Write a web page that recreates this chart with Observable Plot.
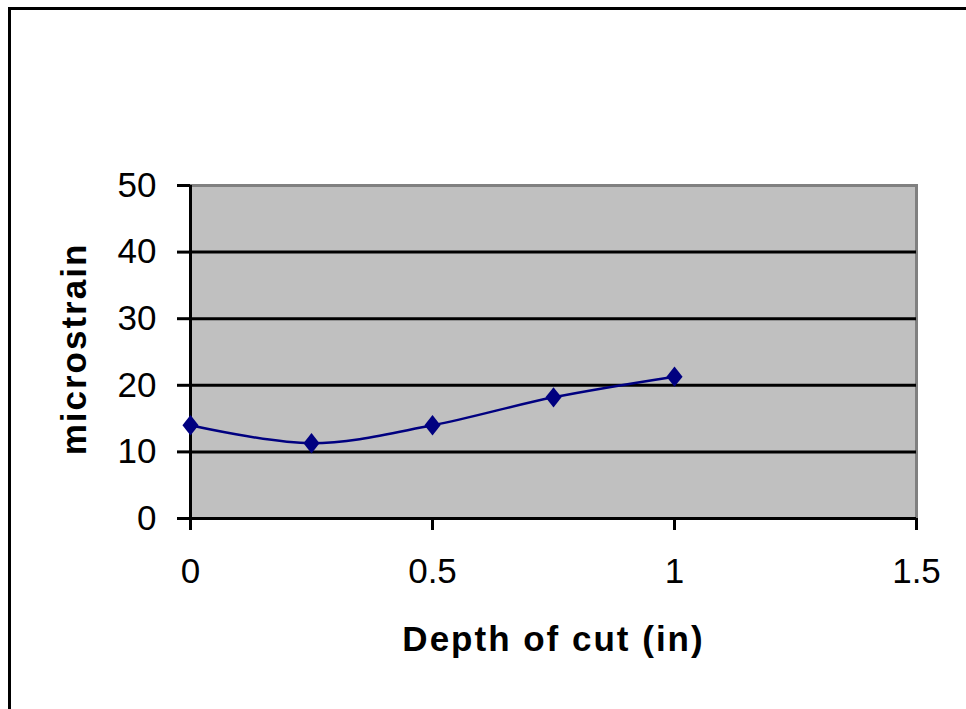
<!DOCTYPE html>
<html>
<head>
<meta charset="utf-8">
<script src="https://cdn.jsdelivr.net/npm/d3@7"></script>
<script src="https://cdn.jsdelivr.net/npm/@observablehq/plot@0.6"></script>
<style>
  html, body { margin: 0; padding: 0; background: #fff; }
  #wrap { position: relative; width: 966px; height: 709px; overflow: hidden; }
  #border { position: absolute; left: 8px; top: 7px; width: 980px; height: 720px;
            border-left: 3px solid #000; border-top: 3px solid #000; box-sizing: border-box; }
  #chart { position: absolute; left: 0; top: 0; }
  #chart g[aria-label="text"] text { letter-spacing: 2px; }
</style>
</head>
<body>
<div id="wrap"><div id="border"></div><div id="chart"></div></div>
<script>
const depth = [0, 0.25, 0.5, 0.75, 1];
const microstrain = [14, 11.3, 14, 18.2, 21.3];
const xTicks = [0, 0.5, 1, 1.5];
const yTicks = [0, 10, 20, 30, 40, 50];
const gridValues = [10, 20, 30, 40];
const xLabel = "Depth of cut (in)";
const yLabel = "microstrain";

const data = depth.map((d, i) => ({depth: d, value: microstrain[i]}));
const font = "'Liberation Sans', Arial, sans-serif";

// Excel-style diamond marker (wider than d3's diamond)
const excelDiamond = {
  draw(context, size) {
    const r = Math.sqrt(size / Math.PI);
    const w = r * 1.15, h = r * 1.45;
    context.moveTo(0, -h);
    context.lineTo(w, 0);
    context.lineTo(0, h);
    context.lineTo(-w, 0);
    context.closePath();
  }
};

const chart = Plot.plot({
  width: 966,
  height: 709,
  marginLeft: 190,
  marginRight: 50,
  marginTop: 185,
  marginBottom: 191,
  style: {fontFamily: font, background: "transparent", color: "#000"},
  x: {domain: [0, 1.5]},
  y: {domain: [0, 50]},
  marks: [
    Plot.frame({fill: "#c0c0c0", stroke: null}),
    Plot.frame({anchor: "top", stroke: "#808080", strokeWidth: 3}),
    Plot.frame({anchor: "right", stroke: "#808080", strokeWidth: 3}),
    Plot.ruleY(gridValues, {stroke: "#000", strokeWidth: 3}),
    Plot.axisY({ticks: yTicks, tickSize: 13, tickPadding: 21, fontSize: 35, strokeWidth: 3, label: null}),
    Plot.axisX({ticks: xTicks, tickSize: 12, tickPadding: 28, fontSize: 35, strokeWidth: 3, label: null, tickFormat: d => String(d)}),
    Plot.ruleY([0], {stroke: "#000", strokeWidth: 3}),
    Plot.ruleX([0], {y1: 0, y2: 50, stroke: "#000", strokeWidth: 3}),
    Plot.line(data, {x: "depth", y: "value", curve: "catmull-rom", stroke: "#000080", strokeWidth: 2.5}),
    Plot.dot(data, {x: "depth", y: "value", symbol: excelDiamond, r: 7, fill: "#000080", stroke: null}),
    Plot.text([xLabel], {frameAnchor: "bottom", dy: 132, text: d => d, fontSize: 35, fontWeight: "bold", fill: "#000"}),
    Plot.text([yLabel], {frameAnchor: "left", dx: -116, dy: -3, rotate: -90, textAnchor: "middle", text: d => d, fontSize: 35, fontWeight: "bold", fill: "#000"})
  ]
});
document.getElementById("chart").appendChild(chart);
</script>
</body>
</html>
